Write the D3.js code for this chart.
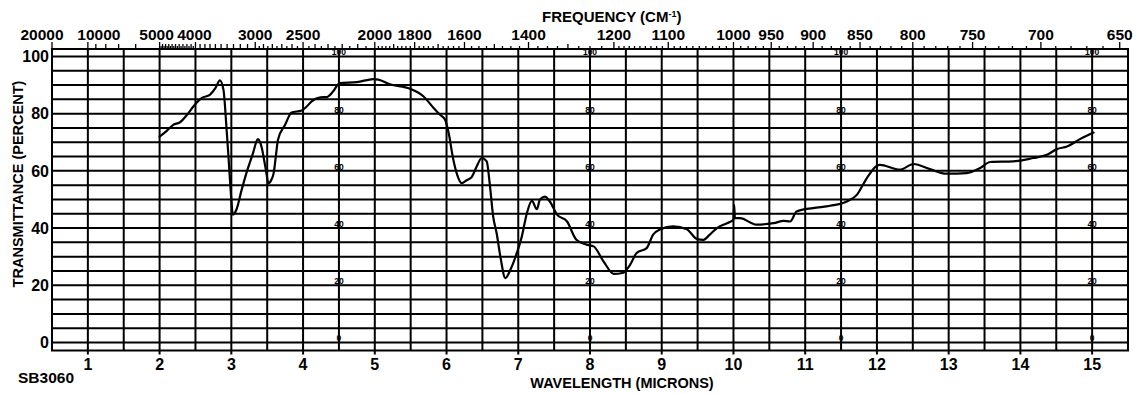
<!DOCTYPE html>
<html>
<head>
<meta charset="utf-8">
<script src="https://cdn.jsdelivr.net/npm/d3@7"></script>
<style>
  body { margin: 0; background: #fff; }
  text { font-family: "Liberation Sans", Arial, sans-serif; font-weight: bold; fill: #000; }
</style>
</head>
<body>
<svg id="chart" width="1143" height="394"></svg>
<script>
// Infrared spectrum: wavelength (microns) vs. transmittance (percent)
const wavelength = [
  2.00, 2.10, 2.19, 2.28, 2.38, 2.47, 2.59, 2.70, 2.78, 2.84,
  2.89, 2.93, 2.96, 3.00, 3.02, 3.07, 3.14, 3.21, 3.30, 3.37,
  3.42, 3.47, 3.52, 3.56, 3.59, 3.62, 3.65, 3.75, 3.84, 3.98,
  4.05, 4.12, 4.24, 4.33, 4.42, 4.51, 4.75, 4.98, 5.05, 5.21,
  5.49, 5.68, 5.82, 5.91, 5.98, 6.03, 6.09, 6.15, 6.21, 6.28,
  6.35, 6.42, 6.49, 6.56, 6.60, 6.65, 6.70, 6.75, 6.82, 6.89,
  6.98, 7.05, 7.12, 7.19, 7.26, 7.30, 7.37, 7.44, 7.54, 7.68,
  7.81, 7.95, 8.05, 8.19, 8.33, 8.45, 8.56, 8.65, 8.79, 8.88,
  8.98, 9.16, 9.35, 9.49, 9.58, 9.67, 9.77, 9.91, 10.00, 10.01,
  10.02, 10.09, 10.32, 10.56, 10.70, 10.79, 10.88, 11.11, 11.35, 11.58,
  11.72, 11.86, 12.00, 12.04, 12.32, 12.51, 12.74, 12.97, 13.25, 13.44,
  13.58, 13.90, 14.18, 14.37, 14.51, 14.65, 14.83, 15.02
];
const transmittance = [
  72.0, 74.0, 76.1, 76.9, 79.5, 82.5, 85.5, 86.6, 89.0, 91.6,
  88.4, 76.0, 65.0, 50.0, 44.7, 46.4, 53.0, 59.2, 66.0, 71.1,
  68.5, 62.0, 55.7, 57.0, 59.2, 65.0, 70.9, 76.1, 80.4, 81.1,
  82.5, 84.3, 85.7, 85.8, 87.8, 90.7, 91.0, 92.1, 91.9, 90.3,
  88.7, 86.0, 82.0, 79.6, 77.9, 73.2, 64.5, 58.5, 55.7, 56.7,
  57.8, 61.5, 64.5, 63.3, 56.0, 44.1, 38.0, 30.1, 22.5, 25.4,
  31.3, 37.1, 45.2, 49.5, 46.6, 49.9, 51.0, 49.3, 44.7, 42.3,
  35.9, 34.2, 33.6, 28.3, 24.0, 24.3, 27.2, 31.3, 33.0, 37.7,
  39.6, 40.6, 39.6, 36.2, 35.9, 37.7, 40.0, 41.7, 42.9, 48.0,
  43.5, 43.5, 41.2, 41.7, 42.5, 42.3, 45.8, 47.0, 47.8, 49.3,
  51.6, 57.5, 61.8, 62.1, 60.4, 62.4, 60.6, 59.0, 59.2, 61.0,
  63.1, 63.3, 64.5, 65.6, 67.6, 68.5, 71.1, 73.4
];

const wavelengthTicks = [1, 2, 3, 4, 5, 6, 7, 8, 9, 10, 11, 12, 13, 14, 15];
const percentTicks = [0, 20, 40, 60, 80, 100];
const frequencyLabels = [20000, 10000, 5000, 4000, 3000, 2500, 2000, 1800, 1600, 1400,
                         1200, 1100, 1000, 950, 900, 850, 800, 750, 700, 650];
// [from, to, step] bands of minor frequency ticks (cm^-1)
const frequencyTickBands = [
  [10000, 5000, 1000], [5000, 4000, 50], [4000, 3000, 100], [3000, 2000, 50],
  [2000, 1600, 20], [1600, 1200, 25], [1200, 1000, 10], [1000, 650, 10]
];
const innerScaleColumns = [4.5, 8, 11.5, 15];

const svg = d3.select("#chart");
svg.append("rect").attr("width", 1143).attr("height", 394).attr("fill", "#fff");

const x = d3.scaleLinear().domain([0.5, 15.5]).range([52, 1128]);
const y = d3.scaleLinear().domain([-2.8, 102.6]).range([350.5, 49]);
const [x0, x1] = x.range();
const [yB, yT] = y.range();

const grid = svg.append("g").attr("stroke", "#000").attr("stroke-width", 2).attr("fill", "none");

// horizontal rules every 5 percent
grid.selectAll("line.h").data(d3.range(0, 101, 5)).join("line")
  .attr("x1", x0).attr("x2", x1)
  .attr("y1", d => y(d)).attr("y2", d => y(d));

// vertical rules every half micron
grid.selectAll("line.v").data(d3.range(1, 15.01, 0.5)).join("line")
  .attr("x1", d => x(d)).attr("x2", d => x(d))
  .attr("y1", yT).attr("y2", d => Number.isInteger(d) ? yB + 4 : yB);

// frame
grid.append("rect").attr("x", x0).attr("y", yT).attr("width", x1 - x0).attr("height", yB - yT);

// bottom wavelength labels
svg.append("g").selectAll("text").data(wavelengthTicks).join("text")
  .attr("x", d => x(d)).attr("y", 370)
  .attr("text-anchor", "middle").attr("font-size", 16)
  .text(d => d);

// left percent labels
svg.append("g").selectAll("text").data(percentTicks).join("text")
  .attr("x", 49).attr("y", d => y(d) + 5.8)
  .attr("text-anchor", "end").attr("font-size", 16)
  .text(d => d);

// small percent labels printed on selected vertical rules
const inner = svg.append("g");
innerScaleColumns.forEach(c => {
  inner.selectAll(null).data(percentTicks).join("text")
    .attr("x", x(c)).attr("y", d => y(d) - 1)
    .attr("text-anchor", "middle").attr("font-size", 8.5)
    .attr("fill", "#000")
    .text(d => d);
});

// top frequency axis (cm^-1 = 10000 / micron)
const fx = f => x(10000 / f);
const minorFreqs = [];
frequencyTickBands.forEach(([a, b, s]) => {
  for (let f = a; f >= b; f -= s) minorFreqs.push(f);
});
const labelSet = new Set(frequencyLabels);
svg.append("g").attr("stroke", "#000").attr("stroke-width", 1.3)
  .selectAll("line").data(Array.from(new Set(minorFreqs.concat(frequencyLabels)))).join("line")
  .attr("x1", fx).attr("x2", fx)
  .attr("y1", yT)
  .attr("y2", f => yT - (labelSet.has(f) ? 7 : (f % 100 === 0 ? 5 : 3)));

// crowded labels at the high-frequency end are nudged apart
const labelShift = f => ({ 20000: -10, 10000: 11, 5000: -3, 4000: -1 })[f] || 0;
svg.append("g").selectAll("text").data(frequencyLabels).join("text")
  .attr("x", f => fx(f) + labelShift(f)).attr("y", 40)
  .attr("text-anchor", "middle").attr("font-size", 15.5)
  .text(f => f);

// axis titles
const freqTitle = svg.append("text").attr("x", 542).attr("y", 22).attr("font-size", 15);
freqTitle.append("tspan").text("FREQUENCY (CM");
freqTitle.append("tspan").attr("font-size", 9).attr("dy", -5).text("-1");
freqTitle.append("tspan").attr("dy", 5).text(")");

svg.append("text").attr("x", 622).attr("y", 388).attr("text-anchor", "middle")
  .attr("font-size", 14.5).text("WAVELENGTH (MICRONS)");

svg.append("text").attr("transform", "translate(23,184) rotate(-90)")
  .attr("text-anchor", "middle").attr("font-size", 14.5)
  .text("TRANSMITTANCE (PERCENT)");

svg.append("text").attr("x", 18).attr("y", 383).attr("font-size", 15.5).text("SB3060");

// spectrum trace
const pts = wavelength.map((w, i) => [w, transmittance[i]]);
svg.append("path").datum(pts)
  .attr("fill", "none").attr("stroke", "#000").attr("stroke-width", 2.2)
  .attr("stroke-linejoin", "round").attr("stroke-linecap", "round")
  .attr("d", d3.line().x(d => x(d[0])).y(d => y(d[1])).curve(d3.curveMonotoneX));
</script>
</body>
</html>
